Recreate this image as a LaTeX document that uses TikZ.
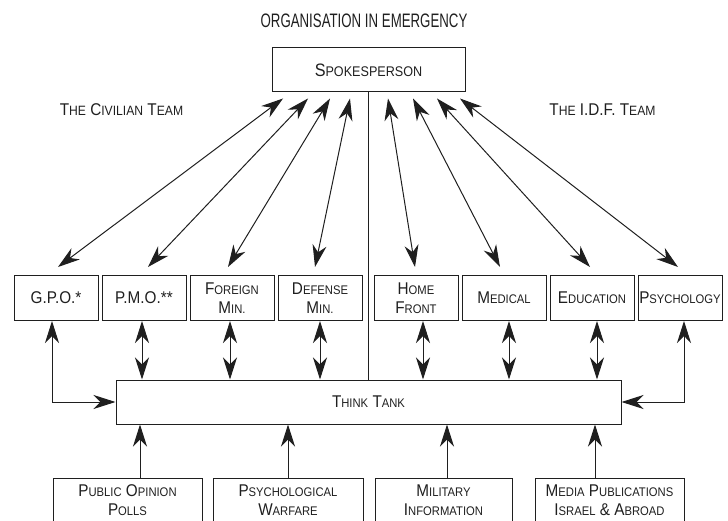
\documentclass[tikz,border=0pt]{standalone}
\usepackage{fontspec}
\setmainfont{Liberation Sans}[FakeStretch=0.9]
\newfontfamily\titlefamily{Liberation Sans}[FakeStretch=0.68]
\usetikzlibrary{arrows.meta}
\definecolor{ink}{HTML}{1F1F1F}
% small capitals, faked with a reduced size
\newcommand\smallsz{\fontsize{12.5}{19}\selectfont}
\newcommand\sm[1]{{\smallsz #1}}
\newcommand\boxfont{\fontsize{17}{19}\selectfont}
\begin{document}
\begin{tikzpicture}[x=1pt,y=-1pt,
  >={Stealth[length=22pt,width=14pt,inset=7pt]},
  box/.style={draw=ink, line width=1pt, inner sep=0pt, align=center,
    text=ink, font=\boxfont},
  unit/.style={box, minimum width=84pt, minimum height=45pt},
  source/.style={box, minimum height=45pt},
  link/.style={draw=ink, line width=1pt},
  label/.style={inner sep=0pt, text=ink, align=center}]
\useasboundingbox (0,0) rectangle (728,521);

% heading and team names
\node[label, font={\titlefamily\fontsize{19.5}{22}\selectfont}] (title) at (364,21)
  {ORGANISATION IN EMERGENCY};
\node[label, font={\fontsize{17}{19}\selectfont\def\smallsz{\fontsize{13.5}{19}\selectfont}}]
  (civ) at (121.5,109.5) {T\sm{HE} C\sm{IVILIAN} T\sm{EAM}};
\node[label, font={\fontsize{17}{19}\selectfont\def\smallsz{\fontsize{13.5}{19}\selectfont}}]
  (idf) at (602.5,110) {T\sm{HE} I.D.F. T\sm{EAM}};

% spokesperson
\node[box, minimum width=193pt, minimum height=44pt,
  font={\fontsize{18}{20}\selectfont\def\smallsz{\fontsize{14}{20}\selectfont}}]
  (spk) at (368.5,70) {S\sm{POKESPERSON}};

% civilian and I.D.F. units
\node[unit] (gpo) at (56,298)  {G.P.O.*};
\node[unit] (pmo) at (144,298) {P.M.O.**};
\node[unit] (for) at (232,298) {F\sm{OREIGN}\\M\sm{IN.}};
\node[unit] (def) at (320,298) {D\sm{EFENSE}\\M\sm{IN.}};
\node[unit] (hom) at (416,298) {H\sm{OME}\\F\sm{RONT}};
\node[unit] (med) at (504,298) {M\sm{EDICAL}};
\node[unit] (edu) at (592,298) {E\sm{DUCATION}};
\node[unit] (psy) at (680,298) {P\sm{SYCHOLOGY}};

% think tank
\node[box, minimum width=505pt, minimum height=44pt] (tt) at (368.5,402)
  {T\sm{HINK} T\sm{ANK}};

% information sources
\node[source, minimum width=149pt] (pol) at (127.5,500.5) {P\sm{UBLIC} O\sm{PINION}\\P\sm{OLLS}};
\node[source, minimum width=150pt] (war) at (288,500.5)   {P\sm{SYCHOLOGICAL}\\W\sm{ARFARE}};
\node[source, minimum width=137pt] (mil) at (443.5,500.5) {M\sm{ILITARY}\\I\sm{NFORMATION}};
\node[source, minimum width=149pt] (mpu) at (609.5,500.5) {M\sm{EDIA} P\sm{UBLICATIONS}\\I\sm{SRAEL} \& A\sm{BROAD}};

% spokesperson down to the think tank
\draw[link] (spk.south) -- (tt.north);

% spokesperson to each unit
\draw[link,<->] ([xshift=-85.5pt,yshift=-6pt]spk.south) -- ([xshift=2pt,yshift=8pt]gpo.north);
\draw[link,<->] ([xshift=-60.5pt,yshift=-6pt]spk.south) -- ([xshift=4pt,yshift=8pt]pmo.north);
\draw[link,<->] ([xshift=-38.5pt,yshift=-6pt]spk.south) -- ([xshift=-4pt,yshift=8pt]for.north);
\draw[link,<->] ([xshift=-18.5pt,yshift=-6pt]spk.south) -- ([xshift=-5pt,yshift=8pt]def.north);
\draw[link,<->] ([xshift=19.5pt,yshift=-6pt]spk.south) -- ([xshift=-1pt,yshift=8pt]hom.north);
\draw[link,<->] ([xshift=44.5pt,yshift=-6pt]spk.south) -- ([xshift=-4pt,yshift=8pt]med.north);
\draw[link,<->] ([xshift=68.5pt,yshift=-6pt]spk.south) -- ([xshift=-2pt,yshift=8pt]edu.north);
\draw[link,<->] ([xshift=91.5pt,yshift=-6pt]spk.south) -- ([xshift=-2pt,yshift=8pt]psy.north);

% units to the think tank
\draw[link,<->] ([xshift=-4pt]gpo.south) |- (tt.west);
\draw[link,<->] ([xshift=4pt]psy.south) |- (tt.east);
\foreach \u/\d in {pmo/-2, for/-2, def/0, hom/7, med/5, edu/5}
  \draw[link,<->] ([xshift=\d pt]\u.south) -- ([xshift=\d pt]\u.south |- tt.north);

% sources feeding the think tank
\foreach \u/\d in {pol/12.5, war/0, mil/3.5, mpu/-14.5}
  \draw[link,->] ([xshift=\d pt]\u.north) -- ([xshift=\d pt]\u.north |- tt.south);
\end{tikzpicture}
\end{document}
